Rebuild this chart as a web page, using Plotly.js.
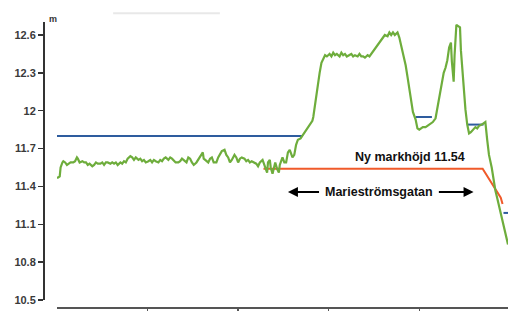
<!DOCTYPE html>
<html>
<head>
<meta charset="utf-8">
<script src="https://cdn.plot.ly/plotly-3.0.1.min.js"></script>
<style>html,body{margin:0;padding:0;background:#fff;}#chart{width:508px;height:311px;}</style>
</head>
<body>
<div id="chart"></div>
<script>
// Existing ground profile (distance m, elevation m)
const groundX = [0,1,3,4,6,7,9,11,13,15,18,20,22,23,25,28,30,32,34,36,39,41,43,45,48,50,52,54,56,59,61,63,65,67,70,72,74,76,78,81,83,85,87,90,92,94,96,98,101,103,105,107,109,112,114,116,118,120,123,125,127,129,131,134,136,138,140,143,145,147,149,151,154,156,158,160,161,162,165,167,169,171,173,176,178,180,182,185,187,189,191,193,196,198,200,202,204,207,209,211,213,215,218,220,222,224,227,229,231,232,233,235,236,238,240,241,243,245,246,249,251,253,255,257,260,262,264,266,269,271,273,275,277,280,282,283,285,287,290,292,294,296,298,301,303,305,307,309,312,314,316,318,320,323,325,327,329,332,334,336,338,340,343,345,347,349,351,354,356,358,360,362,365,367,369,371,373,376,378,380,382,385,387,389,391,393,396,398,400,402,404,407,409,411,413,415,418,420,422,424,427,429,431,433,435,436,438,439,440,441,443,445,446,448,449,451,453,455,457,460,462,464,466,469,471,473,475,477,480,482,484,486,488,491,493,495,497,498];
const groundY = [11.47,11.47,11.48,11.55,11.59,11.60,11.59,11.57,11.58,11.59,11.59,11.60,11.63,11.62,11.59,11.60,11.59,11.59,11.57,11.58,11.56,11.57,11.59,11.58,11.58,11.59,11.57,11.59,11.59,11.58,11.59,11.58,11.59,11.57,11.59,11.58,11.60,11.59,11.62,11.64,11.63,11.61,11.63,11.61,11.62,11.60,11.61,11.59,11.60,11.61,11.59,11.61,11.60,11.59,11.61,11.60,11.62,11.63,11.61,11.63,11.62,11.60,11.59,11.59,11.60,11.62,11.61,11.59,11.63,11.62,11.59,11.57,11.59,11.61,11.63,11.65,11.67,11.62,11.60,11.59,11.62,11.63,11.59,11.59,11.63,11.66,11.68,11.69,11.65,11.63,11.59,11.61,11.65,11.63,11.59,11.62,11.63,11.62,11.60,11.61,11.59,11.60,11.59,11.58,11.56,11.59,11.61,11.57,11.53,11.51,11.59,11.61,11.55,11.50,11.56,11.59,11.54,11.51,11.57,11.63,11.59,11.59,11.67,11.69,11.63,11.65,11.73,11.77,11.78,11.80,11.82,11.85,11.87,11.90,11.92,11.95,12.06,12.18,12.30,12.38,12.41,12.44,12.43,12.45,12.43,12.46,12.44,12.45,12.43,12.46,12.44,12.45,12.43,12.44,12.45,12.43,12.44,12.43,12.45,12.43,12.43,12.42,12.44,12.43,12.45,12.47,12.50,12.52,12.54,12.56,12.58,12.60,12.59,12.62,12.60,12.62,12.60,12.62,12.58,12.52,12.44,12.36,12.27,12.18,12.09,11.99,11.93,11.86,11.85,11.86,11.87,11.87,11.88,11.89,11.90,11.91,11.94,12.02,12.12,12.20,12.30,12.34,12.40,12.50,12.54,12.39,12.23,12.44,12.56,12.68,12.67,12.66,12.48,12.28,12.15,12.01,11.89,11.82,11.83,11.85,11.87,11.86,11.88,11.89,11.90,11.91,11.77,11.65,11.55,11.45,11.37,11.31,11.25,11.17,11.09,11.04,10.98,10.94];

// Blue reference level segments (null = gap)
const blueX = [0,271,null,396,414,null,453,471,null,493,498];
const blueY = [11.80,11.80,null,11.95,11.95,null,11.89,11.89,null,11.19,11.19];

// New ground level (Ny markhöjd)
const newX = [228,470,490,492];
const newY = [11.54,11.54,11.31,11.26];

const yTicks = [10.5,10.8,11.1,11.4,11.7,12,12.3,12.6];
const yTickText = ['10.5','10.8','11.1','11.4','11.7','12','12.3','12.6'];
const xTicks = [100,200,300,400];

const labelNew = 'Ny markhöjd 11.54';
const labelStreet = 'Marieströmsgatan';

const traces = [
  {x: blueX, y: blueY, type:'scatter', mode:'lines', line:{color:'#2e5c9e', width:2}, connectgaps:false, hoverinfo:'skip'},
  {x: newX, y: newY, type:'scatter', mode:'lines', line:{color:'#f05a2a', width:2}, hoverinfo:'skip'},
  {x: groundX, y: groundY, type:'scatter', mode:'lines', line:{color:'#6ead3c', width:2.2}, hoverinfo:'skip'}
];

const layout = {
  width:508, height:311,
  margin:{l:44, r:0, t:22, b:3, pad:0},
  paper_bgcolor:'#fff', plot_bgcolor:'rgba(0,0,0,0)',
  showlegend:false,
  font:{family:'Liberation Sans, Arial, sans-serif', size:11, color:'#333'},
  xaxis:{
    domain:[0.028,1], anchor:'free', position:0,
    range:[0,498], showgrid:false, zeroline:false,
    showline:true, linecolor:'#555', linewidth:2,
    ticks:'outside', ticklen:5, tickwidth:1.5, tickcolor:'#555',
    tickvals:xTicks, showticklabels:false
  },
  yaxis:{
    domain:[0.028,1], anchor:'free', position:0,
    range:[10.5,12.703], showgrid:false, zeroline:false,
    showline:true, linecolor:'#333', linewidth:2,
    ticks:'outside', ticklen:5, tickwidth:1.5, tickcolor:'#333',
    tickvals:yTicks, ticktext:yTickText,
    tickfont:{family:'Liberation Sans, Arial, sans-serif', size:11, color:'#3a3a3a', weight:'bold'}
  },
  shapes:[
    {type:'line', xref:'paper', yref:'paper', x0:0.149, x1:0.379, y0:1.031, y1:1.031, line:{color:'#e8e8e8', width:2}}
  ],
  annotations:[
    {xref:'paper', yref:'paper', x:0.019, y:1.01, text:'<b>m</b>', showarrow:false, xanchor:'center', yanchor:'middle', font:{size:9, color:'#333'}},
    {x:390, y:11.633, text:'<b>'+labelNew+'</b>', showarrow:false, xanchor:'center', yanchor:'middle', font:{family:'Liberation Sans, Arial, sans-serif', size:12.5, color:'#111'}},
    {x:356, y:11.356, text:'<b>'+labelStreet+'</b>', showarrow:false, xanchor:'center', yanchor:'middle', font:{family:'Liberation Sans, Arial, sans-serif', size:12.5, color:'#111'}},
    {x:255, y:11.356, ax:291, ay:11.356, axref:'x', ayref:'y', text:'', showarrow:true, arrowhead:2, arrowsize:1, arrowwidth:2, arrowcolor:'#000'},
    {x:460, y:11.356, ax:420, ay:11.356, axref:'x', ayref:'y', text:'', showarrow:true, arrowhead:2, arrowsize:1, arrowwidth:2, arrowcolor:'#000'}
  ]
};

Plotly.newPlot('chart', traces, layout, {staticPlot:true, displayModeBar:false});
</script>
</body>
</html>
